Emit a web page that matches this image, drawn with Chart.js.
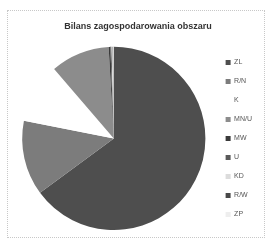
<!DOCTYPE html>
<html>
<head>
<meta charset="utf-8">
<script src="https://cdn.jsdelivr.net/npm/chart.js@4/dist/chart.umd.min.js"></script>
<style>
body{margin:0;background:#fff;}
#frame{position:absolute;left:7px;top:10px;width:256px;height:226px;border:1px dotted #c8c8c8;}
#wrap{position:absolute;left:0;top:0;width:272px;height:241px;}
</style>
</head>
<body>
<div id="frame"></div>
<div id="wrap"><canvas id="pie"></canvas></div>
<script>

// data

const labels = ["ZL","R/N","K","MN/U","MW","U","KD","R/W","ZP"]
const shares = [64.9,13.2,10.6,10.4,0.3,0.2,0.2,0.1,0.1]
const colors = ["#4e4e4e","#7c7c7c","#ffffff","#8c8c8c","#3a3a3a","#5a5a5a","#dcdcdc","#484848","#eeeeee"]

new Chart(document.getElementById("pie"),{

type:"pie",

data:{
labels:labels,
datasets:[{
data:shares,
backgroundColor:colors,
borderWidth:0
}]
},

options:{
responsive:true,
maintainAspectRatio:false,
animation:false,
layout:{padding:{left:14,right:10,top:14,bottom:11}},
plugins:{
title:{
display:true,
text:"Bilans zagospodarowania obszaru",
color:"#333",
font:{family:"Liberation Sans",size:9,weight:"bold"},
padding:{top:7,bottom:15}
},
legend:{
position:"right",
fullSize:false,
labels:{
color:"#555",
boxWidth:5,
boxHeight:5,
padding:12,
font:{family:"Liberation Sans",size:7}
}
},
tooltip:{enabled:false}
}
}

})

</script>
</body>
</html>
